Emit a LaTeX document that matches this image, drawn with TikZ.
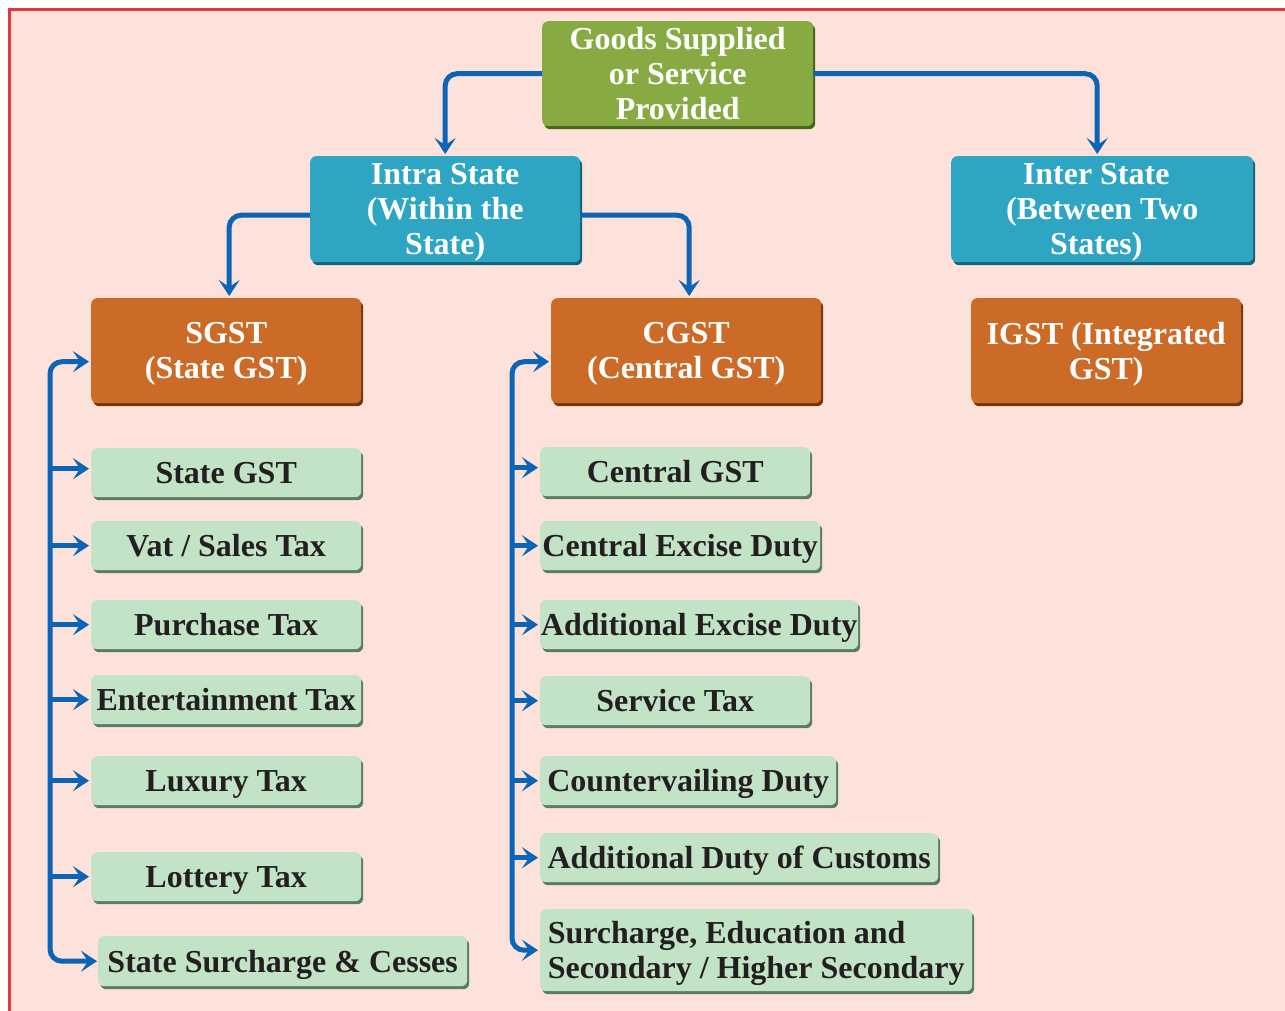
\documentclass[tikz,border=0pt]{standalone}
\usepackage{fontspec}
\setmainfont{Liberation Serif}
\usetikzlibrary{arrows.meta,shadows,calc}
\definecolor{bgc}{RGB}{253,226,219}
\definecolor{framec}{RGB}{238,51,56}
\definecolor{cTop}{RGB}{136,170,66}
\definecolor{cTopD}{RGB}{70,100,30}
\definecolor{cBlue}{RGB}{46,166,195}
\definecolor{cBlueD}{RGB}{18,100,125}
\definecolor{cOr}{RGB}{204,107,39}
\definecolor{cOrD}{RGB}{115,55,15}
\definecolor{cLg}{RGB}{195,227,198}
\definecolor{cLgD}{RGB}{90,125,98}
\definecolor{cLine}{RGB}{11,100,181}
\definecolor{cText}{RGB}{35,31,32}
\tikzset{
  box/.style={rounded corners=6pt, inner sep=0pt, anchor=north west, align=center,
    text depth=0pt, font=\fontsize{32}{35}\selectfont\bfseries},
  topbox/.style={box, fill=cTop, text=white,
    drop shadow={shadow xshift=2pt, shadow yshift=-3pt, fill=cTopD, opacity=1}},
  bluebox/.style={box, fill=cBlue, text=white,
    drop shadow={shadow xshift=2pt, shadow yshift=-3pt, fill=cBlueD, opacity=1}},
  orbox/.style={box, fill=cOr, text=white,
    drop shadow={shadow xshift=2pt, shadow yshift=-3pt, fill=cOrD, opacity=1}},
  lgbox/.style={box, fill=cLg, text=cText, minimum height=49pt,
    drop shadow={shadow xshift=2pt, shadow yshift=-3pt, fill=cLgD, opacity=1}},
  conn/.style={draw=cLine, line width=5pt},
  tip/.style={-{Stealth[length=16pt, width=21pt, inset=7pt]}},
  bothtip/.style={{Stealth[length=16pt, width=21pt, inset=7pt]}-{Stealth[length=16pt, width=21pt, inset=7pt]}}
}
\begin{document}
\begin{tikzpicture}[x=1pt,y=-1pt]
\useasboundingbox (0,0) rectangle (1285,1011);
\fill[white] (0,0) rectangle (1285,1011);
\fill[bgc] (10,10) rectangle (1285,1011);
\draw[framec, line width=3pt] (9.5,1011) -- (9.5,9.5) -- (1285,9.5);

% top levels
\node[topbox, minimum width=271pt, minimum height=105pt] (goods) at (542,21) {Goods Supplied\\or Service\\Provided};
\node[bluebox, minimum width=270pt, minimum height=106pt, text depth=-6pt] (intra) at (310,156) {Intra State\\(Within the\\State)};
\node[bluebox, minimum width=302pt, minimum height=106pt] (inter) at (951,156) {Inter State\hspace*{12pt}\\(Between Two\hspace*{12pt}\\States)\hspace*{12pt}};
\node[orbox, minimum width=270pt, minimum height=105pt] (sgst) at (91,298) {SGST\\(State GST)};
\node[orbox, minimum width=270pt, minimum height=105pt] (cgst) at (551,298) {CGST\\(Central GST)};
\node[orbox, minimum width=270pt, minimum height=105pt] (igst) at (971,298) {IGST (Integrated\\GST)};

% left list
\node[lgbox, minimum width=270pt] (s1) at (91,448) {State GST};
\node[lgbox, minimum width=270pt] (s2) at (91,521) {Vat / Sales Tax};
\node[lgbox, minimum width=270pt] (s3) at (91,600) {Purchase Tax};
\node[lgbox, minimum width=270pt] (s4) at (91,675) {Entertainment Tax};
\node[lgbox, minimum width=270pt] (s5) at (91,756) {Luxury Tax};
\node[lgbox, minimum width=270pt] (s6) at (91,852) {Lottery Tax};
\node[lgbox, minimum width=369pt, minimum height=50pt] (s7) at (98,936) {State Surcharge \& Cesses};

% right list
\node[lgbox, minimum width=270pt] (c1) at (540,447) {Central GST};
\node[lgbox, minimum width=280pt] (c2) at (540,521) {Central Excise Duty};
\node[lgbox, minimum width=318pt] (c3) at (540,600) {Additional Excise Duty};
\node[lgbox, minimum width=270pt] (c4) at (540,676) {Service Tax};
\node[lgbox, minimum width=296pt] (c5) at (540,756) {Countervailing Duty};
\node[lgbox, minimum width=398pt] (c6) at (540,833) {Additional Duty of Customs};
\node[lgbox, minimum width=432pt, minimum height=82pt, align=left] (c7) at (540,909) {Surcharge, Education and\\Secondary / Higher Secondary};

% connectors from top
\draw[conn, tip, rounded corners=12pt] (goods.west) -| ([yshift=2pt]intra.north);
\draw[conn, tip, rounded corners=12pt] (goods.east) -| ([xshift=-5pt, yshift=2pt]inter.north);
\draw[conn, tip, rounded corners=12pt] ([yshift=-6pt]intra.west) -| ([xshift=3pt, yshift=2pt]sgst.north);
\draw[conn, tip, rounded corners=12pt] ([yshift=-6pt]intra.east) -| ([xshift=3pt, yshift=2pt]cgst.north);

% left bus
\coordinate (lbus) at (50,0);
\coordinate (sgstA) at ([xshift=-2pt, yshift=-11pt]sgst.west);
\draw[conn, bothtip, rounded corners=12pt] ([xshift=-1pt]s7.west) -| (lbus |- sgstA) -- (sgstA);
\draw[conn, tip] ([yshift=4pt]lbus |- s1.west) -- ([xshift=-2pt, yshift=4pt]s1.west);
\foreach \n in {s2,s3,s4,s5,s6}{
  \draw[conn, tip] (lbus |- \n.west) -- ([xshift=-2pt]\n.west);
}

% right bus
\coordinate (rbus) at (512,0);
\coordinate (cgstA) at ([xshift=-2pt, yshift=-11pt]cgst.west);
\draw[conn, bothtip, rounded corners=12pt] ([xshift=-2pt]c7.west) -| (rbus |- cgstA) -- (cgstA);
\draw[conn, tip] ([yshift=4pt]rbus |- c1.west) -- ([xshift=-2pt, yshift=4pt]c1.west);
\foreach \n in {c2,c3,c4,c5,c6}{
  \draw[conn, tip] (rbus |- \n.west) -- ([xshift=-2pt]\n.west);
}
\end{tikzpicture}
\end{document}
